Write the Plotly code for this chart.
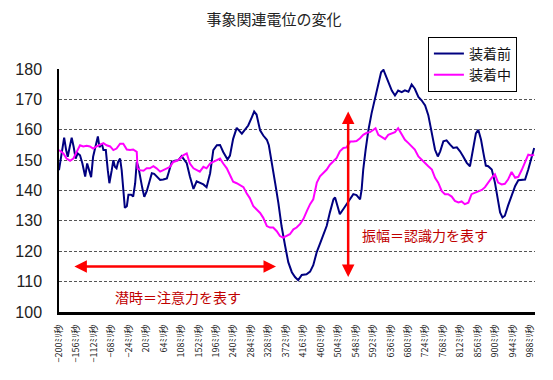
import plotly.graph_objects as go

# ---- data (ms, μV-ish values) ----
t_before = [-200,-193,-187,-182,-178,-173,-168,-163,-158,-153,-147,-141,-134,-129,-124,-119,-114,-107,-102,-98,
            -92,-88,-82,-77,-73,-67,-63,-59,-55,-51,-46,-42,-38,-34,-29,-25,-18,-13,-8,-4,
            0,4,10,15,21,28,34,40,46,55,63,72,77,84,92,101,109,122,130,139,
            147,155,164,172,181,189,198,206,214,225,231,239,248,261,269,277,286,292,298,307,
            315,324,329,336,345,353,361,370,378,387,395,403,412,424,433,441,450,458,466,475,
            483,492,496,503,508,517,525,534,542,550,559,563,567,573,580,588,597,605,612,618,
            624,630,639,647,655,664,672,681,689,697,706,714,723,731,740,748,755,761,769,777,
            786,794,803,811,819,828,836,844,851,857,864,870,876,882,891,899,906,912,918,924,
            932,941,950,958,967,975,983,992,998]
v_before = [146.7,152.2,157.4,153.3,151.1,154.3,157.4,154.3,150.5,152.2,151.6,148.9,144.6,148.9,146.2,144.4,151.1,155.4,157.8,154.3,
            155.4,153.3,153.3,146.7,142.4,146.7,150.0,147.8,147.3,149.4,150.5,146.7,139.1,134.3,134.8,138.6,138.6,138.0,142.4,149.4,
            147.8,144.6,140.8,137.9,139.7,142.9,145.7,145.5,144.6,143.5,143.6,144.0,146.2,149.4,149.8,150.0,151.3,149.0,144.6,140.5,
            143.0,142.5,142.0,141.1,145.7,153.3,154.9,155.0,152.7,150.2,151.5,157.0,160.6,158.7,160.0,161.4,164.1,166.0,165.0,159.8,
            158.1,156.7,154.9,150.0,142.4,135.9,128.3,121.8,116.4,113.1,111.5,110.5,112.2,112.4,113.3,115.4,119.8,122.5,125.2,128.4,
            132.8,137.1,137.7,133.9,132.2,133.9,135.5,137.1,138.8,138.5,137.1,140.4,146.9,153.4,159.9,165.4,170.2,175.1,178.9,179.7,
            177.8,175.6,172.9,171.3,172.9,172.4,173.0,172.5,174.9,173.5,170.8,169.7,168.0,164.8,158.8,153.4,151.2,152.9,156.2,156.5,
            155.1,154.0,154.2,152.9,151.2,149.1,148.0,153.4,158.8,160.0,156.7,152.3,148.2,148.0,146.9,142.6,137.1,132.8,131.1,131.7,
            135.0,138.2,141.5,143.4,143.5,143.6,146.9,151.2,154.0]

t_during = [-200,-189,-181,-172,-164,-155,-147,-139,-130,-122,-114,-105,-97,-88,-80,-71,-63,-55,-46,-38,
            -29,-21,-13,-4,-2,4,13,21,29,38,46,55,63,72,80,88,97,105,113,122,
            130,139,147,155,164,172,181,189,198,206,214,223,231,239,248,256,265,273,281,290,
            298,307,315,324,332,340,349,357,365,374,382,391,399,408,416,425,433,441,450,458,
            466,475,483,492,500,508,517,525,534,542,550,559,567,576,584,592,598,605,614,622,
            630,639,647,655,664,672,681,689,697,706,714,723,731,740,748,756,765,773,781,790,
            798,807,815,823,832,840,849,857,866,874,882,891,899,907,916,924,932,941,950,958,
            967,975,983,992,998]
v_during = [153.3,152.2,150.5,149.8,150.5,152.7,154.9,154.5,154.7,154.5,153.8,154.5,154.9,155.6,154.9,154.5,153.3,153.8,155.4,155.4,
            153.5,153.3,153.5,152.7,147.3,146.7,146.5,147.3,147.3,148.0,147.3,146.2,146.7,147.3,147.8,149.4,149.8,150.5,151.6,152.2,
            148.9,147.3,146.7,146.2,147.8,147.3,148.9,149.4,150.0,150.5,148.9,147.3,145.1,142.9,142.4,141.8,141.1,139.1,137.5,134.8,
            133.7,132.6,131.0,128.3,127.8,127.8,126.6,125.0,124.5,125.0,125.6,127.2,127.8,129.0,130.6,133.3,135.5,137.1,142.6,144.7,
            145.8,146.9,148.5,149.6,150.7,152.9,154.0,154.2,156.1,156.1,156.3,157.2,158.3,159.0,159.2,159.9,160.5,158.3,157.5,156.9,
            158.3,158.8,159.2,160.5,158.3,156.7,155.6,154.5,153.5,151.2,150.1,149.1,148.0,146.9,144.2,142.6,139.8,138.8,138.8,138.0,
            136.6,136.1,136.4,135.5,136.0,138.8,139.2,139.8,140.2,141.1,142.6,144.2,145.3,142.6,142.0,142.2,143.6,146.1,144.2,144.5,
            146.9,149.6,151.8,151.5,151.8]

tick_ms = list(range(-200, 1000, 44))
tick_labels = [f"{'−' if v < 0 else ''}{abs(v)}ﾐﾘ秒" for v in tick_ms]
y_ticks = [100, 110, 120, 130, 140, 150, 160, 170, 180]

series_names = ["装着前", "装着中"]
title_text = "事象関連電位の変化"
latency_text = "潜時＝注意力を表す"
amplitude_text = "振幅＝認識力を表す"
latency_span = (-165, 347, 115)      # x0, x1, y
amplitude_span = (529, 111, 166)     # x, y0, y1

CJK = "Noto Sans CJK JP"

fig = go.Figure()
fig.add_trace(go.Scatter(x=t_before, y=v_before, mode="lines", name=series_names[0],
                         line=dict(color="#000080", width=2)))
fig.add_trace(go.Scatter(x=t_during, y=v_during, mode="lines", name=series_names[1],
                         line=dict(color="#FF00FF", width=2)))

# double-headed arrows
fig.add_annotation(x=latency_span[1], y=latency_span[2], ax=latency_span[0], ay=latency_span[2],
                   xref="x", yref="y", axref="x", ayref="y", text="", showarrow=True,
                   arrowhead=2, startarrowhead=2, arrowside="end+start", arrowsize=1.0,
                   startarrowsize=1.0, arrowwidth=2.5, arrowcolor="#FF0000")
fig.add_annotation(x=amplitude_span[0], y=amplitude_span[2], ax=amplitude_span[0], ay=amplitude_span[1],
                   xref="x", yref="y", axref="x", ayref="y", text="", showarrow=True,
                   arrowhead=2, startarrowhead=2, arrowside="end+start", arrowsize=1.0,
                   startarrowsize=1.0, arrowwidth=2.5, arrowcolor="#FF0000")
fig.add_annotation(x=100, y=105, xref="x", yref="y", text=latency_text, showarrow=False,
                   font=dict(family=CJK, size=14, color="#C00000"))
fig.add_annotation(x=723, y=125.4, xref="x", yref="y", text=amplitude_text, showarrow=False,
                   font=dict(family=CJK, size=14, color="#C00000"))

# page body has an 8px default margin, so the figure is 8px smaller and margins shifted
fig.update_layout(
    width=545, height=372,
    margin=dict(l=51, r=18, t=61, b=68, autoexpand=False),
    paper_bgcolor="white", plot_bgcolor="white",
    title=dict(text=title_text, x=0.488, xanchor="center", y=0.968, yanchor="middle",
               font=dict(family=CJK, size=15, color="#222222")),
    showlegend=True,
    legend=dict(x=0.962, xanchor="right", y=1.132, yanchor="top",
                bgcolor="white", bordercolor="black", borderwidth=1,
                font=dict(family=CJK, size=14, color="#111111"),
                itemwidth=30, tracegroupgap=0),
    xaxis=dict(range=[-200, 1000], tickmode="array", tickvals=tick_ms, ticktext=tick_labels,
               tickangle=-90, tickfont=dict(family=CJK, size=9, color="#222222"),
               showgrid=False, zeroline=False, showline=True, linecolor="black", linewidth=3,
               ticks="", ticklabelstandoff=6, automargin=False),
    yaxis=dict(range=[100, 180], tickmode="array", tickvals=y_ticks,
               tickfont=dict(family="Liberation Sans", size=16, color="#222222"),
               showgrid=True, gridcolor="#555555", gridwidth=1, griddash="3px,2px",
               zeroline=False, showline=True, linecolor="black", linewidth=1.5,
               ticks="", ticklabelstandoff=12, automargin=False),
)

fig.write_html("out.html")
